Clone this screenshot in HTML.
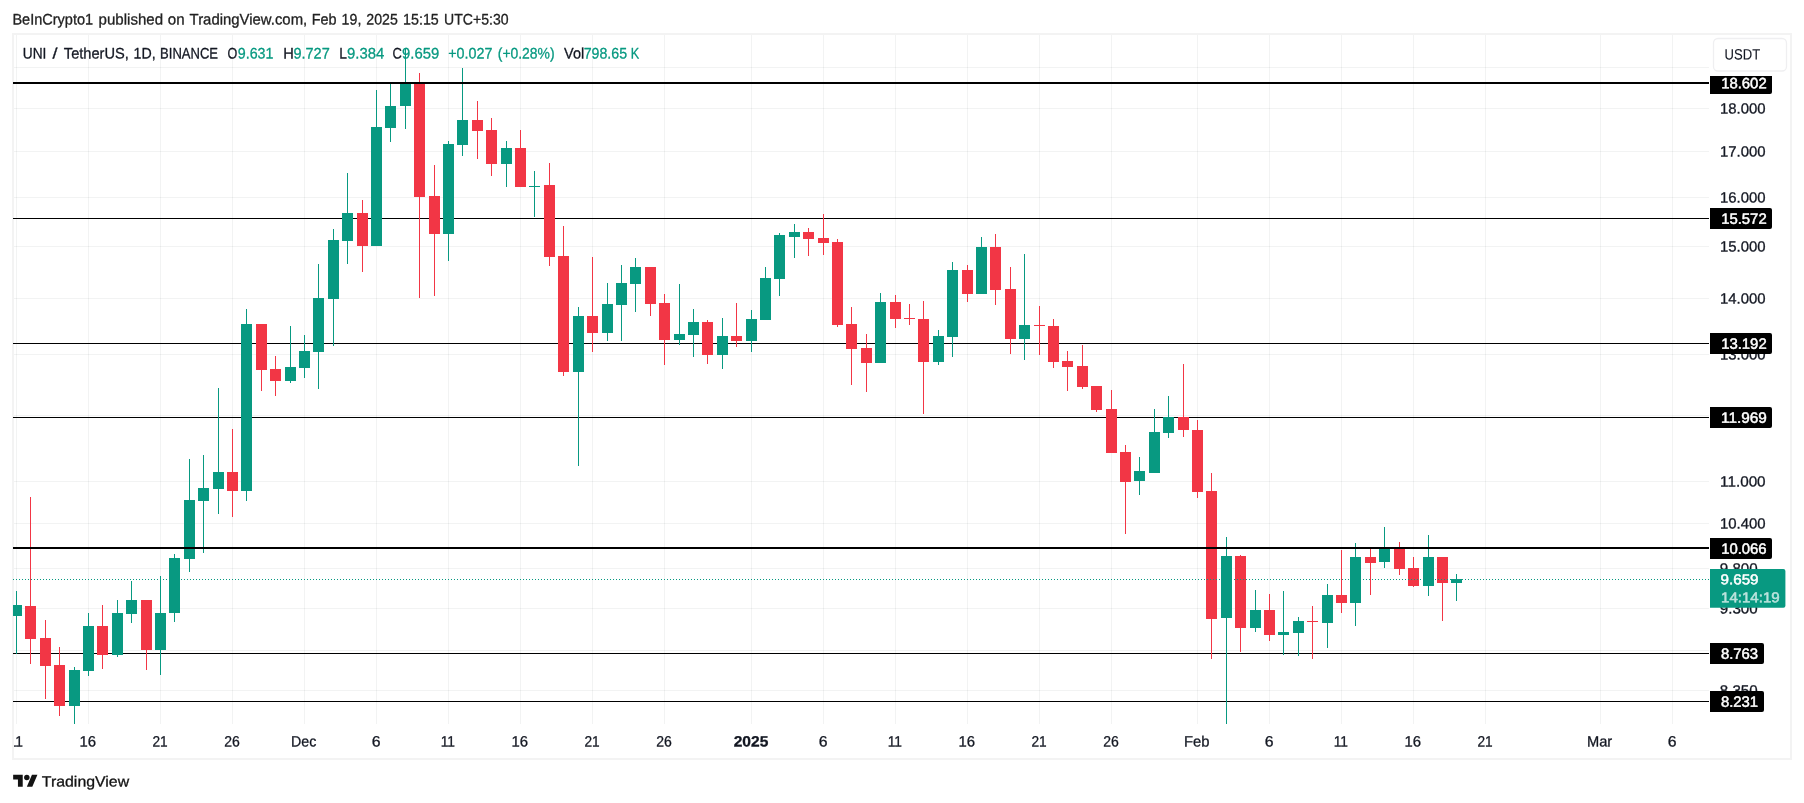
<!DOCTYPE html>
<html lang="en"><head><meta charset="utf-8"><title>UNI / TetherUS chart</title>
<style>html,body{margin:0;padding:0;background:#fff;width:1804px;height:803px;overflow:hidden}</style>
</head><body>
<svg width="1804" height="803" viewBox="0 0 1804 803" style="position:absolute;left:0;top:0;display:block;will-change:transform" font-family="'Liberation Sans', sans-serif">
<rect x="0" y="0" width="1804" height="803" fill="#fff"/>
<g shape-rendering="crispEdges">
<rect x="13" y="34" width="1778" height="725" fill="none" stroke="#f3f3f3" stroke-width="2"/>
<rect x="16" y="35" width="1" height="689" fill="rgba(42,46,57,0.06)"/>
<rect x="88" y="35" width="1" height="689" fill="rgba(42,46,57,0.06)"/>
<rect x="160" y="35" width="1" height="689" fill="rgba(42,46,57,0.06)"/>
<rect x="232" y="35" width="1" height="689" fill="rgba(42,46,57,0.06)"/>
<rect x="304" y="35" width="1" height="689" fill="rgba(42,46,57,0.06)"/>
<rect x="376" y="35" width="1" height="689" fill="rgba(42,46,57,0.06)"/>
<rect x="448" y="35" width="1" height="689" fill="rgba(42,46,57,0.06)"/>
<rect x="520" y="35" width="1" height="689" fill="rgba(42,46,57,0.06)"/>
<rect x="592" y="35" width="1" height="689" fill="rgba(42,46,57,0.06)"/>
<rect x="664" y="35" width="1" height="689" fill="rgba(42,46,57,0.06)"/>
<rect x="751" y="35" width="1" height="689" fill="rgba(42,46,57,0.06)"/>
<rect x="823" y="35" width="1" height="689" fill="rgba(42,46,57,0.06)"/>
<rect x="895" y="35" width="1" height="689" fill="rgba(42,46,57,0.06)"/>
<rect x="967" y="35" width="1" height="689" fill="rgba(42,46,57,0.06)"/>
<rect x="1039" y="35" width="1" height="689" fill="rgba(42,46,57,0.06)"/>
<rect x="1111" y="35" width="1" height="689" fill="rgba(42,46,57,0.06)"/>
<rect x="1197" y="35" width="1" height="689" fill="rgba(42,46,57,0.06)"/>
<rect x="1269" y="35" width="1" height="689" fill="rgba(42,46,57,0.06)"/>
<rect x="1341" y="35" width="1" height="689" fill="rgba(42,46,57,0.06)"/>
<rect x="1413" y="35" width="1" height="689" fill="rgba(42,46,57,0.06)"/>
<rect x="1485" y="35" width="1" height="689" fill="rgba(42,46,57,0.06)"/>
<rect x="1600" y="35" width="1" height="689" fill="rgba(42,46,57,0.06)"/>
<rect x="1672" y="35" width="1" height="689" fill="rgba(42,46,57,0.06)"/>
<rect x="14" y="67" width="1695" height="1" fill="rgba(42,46,57,0.06)"/>
<rect x="14" y="108" width="1695" height="1" fill="rgba(42,46,57,0.06)"/>
<rect x="14" y="151" width="1695" height="1" fill="rgba(42,46,57,0.06)"/>
<rect x="14" y="197" width="1695" height="1" fill="rgba(42,46,57,0.06)"/>
<rect x="14" y="246" width="1695" height="1" fill="rgba(42,46,57,0.06)"/>
<rect x="14" y="298" width="1695" height="1" fill="rgba(42,46,57,0.06)"/>
<rect x="14" y="354" width="1695" height="1" fill="rgba(42,46,57,0.06)"/>
<rect x="14" y="415" width="1695" height="1" fill="rgba(42,46,57,0.06)"/>
<rect x="14" y="481" width="1695" height="1" fill="rgba(42,46,57,0.06)"/>
<rect x="14" y="523" width="1695" height="1" fill="rgba(42,46,57,0.06)"/>
<rect x="14" y="568" width="1695" height="1" fill="rgba(42,46,57,0.06)"/>
<rect x="14" y="608" width="1695" height="1" fill="rgba(42,46,57,0.06)"/>
<rect x="14" y="650" width="1695" height="1" fill="rgba(42,46,57,0.06)"/>
<rect x="14" y="690" width="1695" height="1" fill="rgba(42,46,57,0.06)"/>
<rect x="13" y="218" width="1696" height="1" fill="#000"/>
<rect x="13" y="343" width="1696" height="1" fill="#000"/>
<rect x="13" y="417" width="1696" height="1" fill="#000"/>
<rect x="13" y="653" width="1696" height="1" fill="#000"/>
<rect x="13" y="701" width="1696" height="1" fill="#000"/>
<g clip-path="url(#plotclip)">
<rect x="16" y="591" width="1" height="63" fill="#089981"/>
<rect x="11" y="605" width="11" height="11" fill="#089981"/>
<rect x="30" y="497" width="1" height="167" fill="#f23645"/>
<rect x="25" y="606" width="11" height="33" fill="#f23645"/>
<rect x="45" y="620" width="1" height="79" fill="#f23645"/>
<rect x="40" y="638" width="11" height="28" fill="#f23645"/>
<rect x="59" y="647" width="1" height="69" fill="#f23645"/>
<rect x="54" y="665" width="11" height="41" fill="#f23645"/>
<rect x="74" y="667" width="1" height="57" fill="#089981"/>
<rect x="69" y="670" width="11" height="36" fill="#089981"/>
<rect x="88" y="613" width="1" height="63" fill="#089981"/>
<rect x="83" y="626" width="11" height="45" fill="#089981"/>
<rect x="102" y="605" width="1" height="64" fill="#f23645"/>
<rect x="97" y="626" width="11" height="29" fill="#f23645"/>
<rect x="117" y="600" width="1" height="57" fill="#089981"/>
<rect x="112" y="613" width="11" height="42" fill="#089981"/>
<rect x="131" y="581" width="1" height="42" fill="#089981"/>
<rect x="126" y="600" width="11" height="14" fill="#089981"/>
<rect x="146" y="600" width="1" height="70" fill="#f23645"/>
<rect x="141" y="600" width="11" height="50" fill="#f23645"/>
<rect x="160" y="576" width="1" height="99" fill="#089981"/>
<rect x="155" y="613" width="11" height="37" fill="#089981"/>
<rect x="174" y="554" width="1" height="68" fill="#089981"/>
<rect x="169" y="558" width="11" height="55" fill="#089981"/>
<rect x="189" y="459" width="1" height="113" fill="#089981"/>
<rect x="184" y="500" width="11" height="59" fill="#089981"/>
<rect x="203" y="455" width="1" height="98" fill="#089981"/>
<rect x="198" y="488" width="11" height="13" fill="#089981"/>
<rect x="218" y="388" width="1" height="126" fill="#089981"/>
<rect x="213" y="472" width="11" height="17" fill="#089981"/>
<rect x="232" y="429" width="1" height="88" fill="#f23645"/>
<rect x="227" y="472" width="11" height="19" fill="#f23645"/>
<rect x="246" y="309" width="1" height="192" fill="#089981"/>
<rect x="241" y="324" width="11" height="167" fill="#089981"/>
<rect x="261" y="324" width="1" height="67" fill="#f23645"/>
<rect x="256" y="324" width="11" height="46" fill="#f23645"/>
<rect x="275" y="356" width="1" height="40" fill="#f23645"/>
<rect x="270" y="369" width="11" height="12" fill="#f23645"/>
<rect x="290" y="326" width="1" height="57" fill="#089981"/>
<rect x="285" y="367" width="11" height="14" fill="#089981"/>
<rect x="304" y="335" width="1" height="43" fill="#089981"/>
<rect x="299" y="351" width="11" height="17" fill="#089981"/>
<rect x="318" y="264" width="1" height="125" fill="#089981"/>
<rect x="313" y="298" width="11" height="54" fill="#089981"/>
<rect x="333" y="229" width="1" height="117" fill="#089981"/>
<rect x="328" y="240" width="11" height="59" fill="#089981"/>
<rect x="347" y="173" width="1" height="91" fill="#089981"/>
<rect x="342" y="213" width="11" height="28" fill="#089981"/>
<rect x="362" y="200" width="1" height="72" fill="#f23645"/>
<rect x="357" y="213" width="11" height="33" fill="#f23645"/>
<rect x="376" y="90" width="1" height="156" fill="#089981"/>
<rect x="371" y="127" width="11" height="119" fill="#089981"/>
<rect x="390" y="84" width="1" height="58" fill="#089981"/>
<rect x="385" y="106" width="11" height="22" fill="#089981"/>
<rect x="405" y="48" width="1" height="81" fill="#089981"/>
<rect x="400" y="84" width="11" height="22" fill="#089981"/>
<rect x="419" y="73" width="1" height="225" fill="#f23645"/>
<rect x="414" y="84" width="11" height="113" fill="#f23645"/>
<rect x="434" y="165" width="1" height="131" fill="#f23645"/>
<rect x="429" y="196" width="11" height="38" fill="#f23645"/>
<rect x="448" y="141" width="1" height="120" fill="#089981"/>
<rect x="443" y="144" width="11" height="90" fill="#089981"/>
<rect x="462" y="68" width="1" height="88" fill="#089981"/>
<rect x="457" y="120" width="11" height="25" fill="#089981"/>
<rect x="477" y="101" width="1" height="58" fill="#f23645"/>
<rect x="472" y="120" width="11" height="11" fill="#f23645"/>
<rect x="491" y="118" width="1" height="58" fill="#f23645"/>
<rect x="486" y="130" width="11" height="34" fill="#f23645"/>
<rect x="506" y="141" width="1" height="46" fill="#089981"/>
<rect x="501" y="148" width="11" height="16" fill="#089981"/>
<rect x="520" y="130" width="1" height="57" fill="#f23645"/>
<rect x="515" y="148" width="11" height="39" fill="#f23645"/>
<rect x="534" y="171" width="1" height="46" fill="#089981"/>
<rect x="529" y="186" width="11" height="1" fill="#089981"/>
<rect x="549" y="163" width="1" height="103" fill="#f23645"/>
<rect x="544" y="185" width="11" height="72" fill="#f23645"/>
<rect x="563" y="226" width="1" height="150" fill="#f23645"/>
<rect x="558" y="256" width="11" height="116" fill="#f23645"/>
<rect x="578" y="307" width="1" height="159" fill="#089981"/>
<rect x="573" y="316" width="11" height="56" fill="#089981"/>
<rect x="592" y="257" width="1" height="95" fill="#f23645"/>
<rect x="587" y="316" width="11" height="17" fill="#f23645"/>
<rect x="607" y="283" width="1" height="58" fill="#089981"/>
<rect x="602" y="304" width="11" height="29" fill="#089981"/>
<rect x="621" y="265" width="1" height="76" fill="#089981"/>
<rect x="616" y="283" width="11" height="22" fill="#089981"/>
<rect x="635" y="258" width="1" height="54" fill="#089981"/>
<rect x="630" y="267" width="11" height="17" fill="#089981"/>
<rect x="650" y="267" width="1" height="49" fill="#f23645"/>
<rect x="645" y="267" width="11" height="37" fill="#f23645"/>
<rect x="664" y="294" width="1" height="71" fill="#f23645"/>
<rect x="659" y="303" width="11" height="37" fill="#f23645"/>
<rect x="679" y="284" width="1" height="61" fill="#089981"/>
<rect x="674" y="334" width="11" height="6" fill="#089981"/>
<rect x="693" y="309" width="1" height="48" fill="#089981"/>
<rect x="688" y="322" width="11" height="13" fill="#089981"/>
<rect x="707" y="320" width="1" height="44" fill="#f23645"/>
<rect x="702" y="322" width="11" height="33" fill="#f23645"/>
<rect x="722" y="318" width="1" height="51" fill="#089981"/>
<rect x="717" y="336" width="11" height="19" fill="#089981"/>
<rect x="736" y="303" width="1" height="44" fill="#f23645"/>
<rect x="731" y="336" width="11" height="5" fill="#f23645"/>
<rect x="751" y="310" width="1" height="42" fill="#089981"/>
<rect x="746" y="319" width="11" height="22" fill="#089981"/>
<rect x="765" y="267" width="1" height="53" fill="#089981"/>
<rect x="760" y="278" width="11" height="42" fill="#089981"/>
<rect x="779" y="233" width="1" height="63" fill="#089981"/>
<rect x="774" y="235" width="11" height="44" fill="#089981"/>
<rect x="794" y="224" width="1" height="34" fill="#089981"/>
<rect x="789" y="232" width="11" height="5" fill="#089981"/>
<rect x="808" y="228" width="1" height="28" fill="#f23645"/>
<rect x="803" y="232" width="11" height="7" fill="#f23645"/>
<rect x="823" y="214" width="1" height="41" fill="#f23645"/>
<rect x="818" y="238" width="11" height="5" fill="#f23645"/>
<rect x="837" y="239" width="1" height="88" fill="#f23645"/>
<rect x="832" y="242" width="11" height="83" fill="#f23645"/>
<rect x="851" y="307" width="1" height="78" fill="#f23645"/>
<rect x="846" y="324" width="11" height="25" fill="#f23645"/>
<rect x="866" y="334" width="1" height="58" fill="#f23645"/>
<rect x="861" y="348" width="11" height="15" fill="#f23645"/>
<rect x="880" y="293" width="1" height="70" fill="#089981"/>
<rect x="875" y="302" width="11" height="61" fill="#089981"/>
<rect x="895" y="295" width="1" height="33" fill="#f23645"/>
<rect x="890" y="302" width="11" height="17" fill="#f23645"/>
<rect x="909" y="304" width="1" height="21" fill="#f23645"/>
<rect x="904" y="318" width="11" height="1" fill="#f23645"/>
<rect x="923" y="301" width="1" height="113" fill="#f23645"/>
<rect x="918" y="319" width="11" height="43" fill="#f23645"/>
<rect x="938" y="330" width="1" height="35" fill="#089981"/>
<rect x="933" y="336" width="11" height="26" fill="#089981"/>
<rect x="952" y="262" width="1" height="95" fill="#089981"/>
<rect x="947" y="270" width="11" height="67" fill="#089981"/>
<rect x="967" y="265" width="1" height="37" fill="#f23645"/>
<rect x="962" y="270" width="11" height="24" fill="#f23645"/>
<rect x="981" y="237" width="1" height="57" fill="#089981"/>
<rect x="976" y="247" width="11" height="47" fill="#089981"/>
<rect x="995" y="234" width="1" height="71" fill="#f23645"/>
<rect x="990" y="247" width="11" height="43" fill="#f23645"/>
<rect x="1010" y="267" width="1" height="87" fill="#f23645"/>
<rect x="1005" y="289" width="11" height="50" fill="#f23645"/>
<rect x="1024" y="254" width="1" height="106" fill="#089981"/>
<rect x="1019" y="325" width="11" height="14" fill="#089981"/>
<rect x="1039" y="306" width="1" height="49" fill="#f23645"/>
<rect x="1034" y="325" width="11" height="1" fill="#f23645"/>
<rect x="1053" y="319" width="1" height="49" fill="#f23645"/>
<rect x="1048" y="326" width="11" height="36" fill="#f23645"/>
<rect x="1067" y="351" width="1" height="40" fill="#f23645"/>
<rect x="1062" y="361" width="11" height="6" fill="#f23645"/>
<rect x="1082" y="345" width="1" height="44" fill="#f23645"/>
<rect x="1077" y="366" width="11" height="21" fill="#f23645"/>
<rect x="1096" y="386" width="1" height="26" fill="#f23645"/>
<rect x="1091" y="386" width="11" height="24" fill="#f23645"/>
<rect x="1111" y="390" width="1" height="63" fill="#f23645"/>
<rect x="1106" y="409" width="11" height="44" fill="#f23645"/>
<rect x="1125" y="445" width="1" height="89" fill="#f23645"/>
<rect x="1120" y="452" width="11" height="30" fill="#f23645"/>
<rect x="1139" y="457" width="1" height="38" fill="#089981"/>
<rect x="1134" y="471" width="11" height="10" fill="#089981"/>
<rect x="1154" y="409" width="1" height="64" fill="#089981"/>
<rect x="1149" y="432" width="11" height="41" fill="#089981"/>
<rect x="1168" y="396" width="1" height="42" fill="#089981"/>
<rect x="1163" y="417" width="11" height="16" fill="#089981"/>
<rect x="1183" y="364" width="1" height="73" fill="#f23645"/>
<rect x="1178" y="417" width="11" height="13" fill="#f23645"/>
<rect x="1197" y="420" width="1" height="78" fill="#f23645"/>
<rect x="1192" y="430" width="11" height="62" fill="#f23645"/>
<rect x="1211" y="473" width="1" height="186" fill="#f23645"/>
<rect x="1206" y="491" width="11" height="128" fill="#f23645"/>
<rect x="1226" y="537" width="1" height="187" fill="#089981"/>
<rect x="1221" y="556" width="11" height="62" fill="#089981"/>
<rect x="1240" y="555" width="1" height="97" fill="#f23645"/>
<rect x="1235" y="556" width="11" height="72" fill="#f23645"/>
<rect x="1255" y="590" width="1" height="42" fill="#089981"/>
<rect x="1250" y="610" width="11" height="18" fill="#089981"/>
<rect x="1269" y="594" width="1" height="47" fill="#f23645"/>
<rect x="1264" y="610" width="11" height="25" fill="#f23645"/>
<rect x="1283" y="591" width="1" height="64" fill="#089981"/>
<rect x="1278" y="632" width="11" height="3" fill="#089981"/>
<rect x="1298" y="617" width="1" height="39" fill="#089981"/>
<rect x="1293" y="621" width="11" height="12" fill="#089981"/>
<rect x="1312" y="606" width="1" height="53" fill="#f23645"/>
<rect x="1307" y="621" width="11" height="1" fill="#f23645"/>
<rect x="1327" y="584" width="1" height="64" fill="#089981"/>
<rect x="1322" y="595" width="11" height="28" fill="#089981"/>
<rect x="1341" y="550" width="1" height="63" fill="#f23645"/>
<rect x="1336" y="595" width="11" height="8" fill="#f23645"/>
<rect x="1355" y="543" width="1" height="83" fill="#089981"/>
<rect x="1350" y="557" width="11" height="46" fill="#089981"/>
<rect x="1370" y="548" width="1" height="47" fill="#f23645"/>
<rect x="1365" y="557" width="11" height="6" fill="#f23645"/>
<rect x="1384" y="527" width="1" height="41" fill="#089981"/>
<rect x="1379" y="549" width="11" height="13" fill="#089981"/>
<rect x="1399" y="542" width="1" height="33" fill="#f23645"/>
<rect x="1394" y="549" width="11" height="20" fill="#f23645"/>
<rect x="1413" y="557" width="1" height="30" fill="#f23645"/>
<rect x="1408" y="568" width="11" height="18" fill="#f23645"/>
<rect x="1428" y="535" width="1" height="61" fill="#089981"/>
<rect x="1423" y="557" width="11" height="29" fill="#089981"/>
<rect x="1442" y="557" width="1" height="64" fill="#f23645"/>
<rect x="1437" y="557" width="11" height="26" fill="#f23645"/>
<rect x="1456" y="574" width="1" height="27" fill="#089981"/>
<rect x="1451" y="579" width="11" height="4" fill="#089981"/>
</g>
<rect x="13" y="82" width="1696" height="2" fill="#000"/>
<rect x="13" y="547" width="1696" height="2" fill="#000"/>
</g>
<line x1="13" y1="579.5" x2="1710" y2="579.5" stroke="#089981" stroke-width="1" stroke-dasharray="1 2" shape-rendering="crispEdges"/>
<defs><clipPath id="plotclip"><rect x="13" y="35" width="1697" height="689"/></clipPath></defs>
<text x="12.38" textLength="80.77" lengthAdjust="spacingAndGlyphs" y="24.5" transform="rotate(0.05 53.0 24.5)" font-size="15.3" fill="#222" stroke="#222" stroke-width="0.3" stroke-linejoin="round">BeInCrypto1</text>
<text x="98.60" textLength="64.43" lengthAdjust="spacingAndGlyphs" y="24.5" transform="rotate(0.05 130.8 24.5)" font-size="15.3" fill="#222" stroke="#222" stroke-width="0.3" stroke-linejoin="round">published</text>
<text x="167.86" textLength="16.79" lengthAdjust="spacingAndGlyphs" y="24.5" transform="rotate(0.05 175.8 24.5)" font-size="15.3" fill="#222" stroke="#222" stroke-width="0.3" stroke-linejoin="round">on</text>
<text x="189.60" textLength="117.59" lengthAdjust="spacingAndGlyphs" y="24.5" transform="rotate(0.05 247.8 24.5)" font-size="15.3" fill="#222" stroke="#222" stroke-width="0.3" stroke-linejoin="round">TradingView.com,</text>
<text x="311.66" textLength="24.85" lengthAdjust="spacingAndGlyphs" y="24.5" transform="rotate(0.05 324.4 24.5)" font-size="15.3" fill="#222" stroke="#222" stroke-width="0.3" stroke-linejoin="round">Feb</text>
<text x="341.62" textLength="19.71" lengthAdjust="spacingAndGlyphs" y="24.5" transform="rotate(0.05 351.3 24.5)" font-size="15.3" fill="#222" stroke="#222" stroke-width="0.3" stroke-linejoin="round">19,</text>
<text x="366.34" textLength="31.47" lengthAdjust="spacingAndGlyphs" y="24.5" transform="rotate(0.05 381.9 24.5)" font-size="15.3" fill="#222" stroke="#222" stroke-width="0.3" stroke-linejoin="round">2025</text>
<text x="403.10" textLength="35.69" lengthAdjust="spacingAndGlyphs" y="24.5" transform="rotate(0.05 421.0 24.5)" font-size="15.3" fill="#222" stroke="#222" stroke-width="0.3" stroke-linejoin="round">15:15</text>
<text x="444.10" textLength="64.50" lengthAdjust="spacingAndGlyphs" y="24.5" transform="rotate(0.05 476.5 24.5)" font-size="15.3" fill="#222" stroke="#222" stroke-width="0.3" stroke-linejoin="round">UTC+5:30</text>
<text x="22.76" textLength="23.61" lengthAdjust="spacingAndGlyphs" y="58.45" transform="rotate(0.05 34.4 58.45)" font-size="15.3" fill="#131722" stroke="#131722" stroke-width="0.3" stroke-linejoin="round">UNI</text>
<text x="52.40" textLength="5.00" lengthAdjust="spacingAndGlyphs" y="58.45" transform="rotate(0.05 54.9 58.45)" font-size="15.3" fill="#131722" stroke="#131722" stroke-width="0.3" stroke-linejoin="round">/</text>
<text x="63.84" textLength="65.01" lengthAdjust="spacingAndGlyphs" y="58.45" transform="rotate(0.05 95.8 58.45)" font-size="15.3" fill="#131722" stroke="#131722" stroke-width="0.3" stroke-linejoin="round">TetherUS,</text>
<text x="133.54" textLength="22.07" lengthAdjust="spacingAndGlyphs" y="58.45" transform="rotate(0.05 144.4 58.45)" font-size="15.3" fill="#131722" stroke="#131722" stroke-width="0.3" stroke-linejoin="round">1D,</text>
<text x="160.10" textLength="57.94" lengthAdjust="spacingAndGlyphs" y="58.45" transform="rotate(0.05 189.2 58.45)" font-size="15.3" fill="#131722" stroke="#131722" stroke-width="0.3" stroke-linejoin="round">BINANCE</text>
<text x="227.52" textLength="9.77" lengthAdjust="spacingAndGlyphs" y="58.45" transform="rotate(0.05 232.2 58.45)" font-size="15.3" fill="#131722" stroke="#131722" stroke-width="0.3" stroke-linejoin="round">O</text>
<text x="237.74" textLength="35.68" lengthAdjust="spacingAndGlyphs" y="58.45" transform="rotate(0.05 255.6 58.45)" font-size="15.3" fill="#089981" stroke="#089981" stroke-width="0.3" stroke-linejoin="round">9.631</text>
<text x="283.30" textLength="10.60" lengthAdjust="spacingAndGlyphs" y="58.45" transform="rotate(0.05 288.5 58.45)" font-size="15.3" fill="#131722" stroke="#131722" stroke-width="0.3" stroke-linejoin="round">H</text>
<text x="293.44" textLength="36.31" lengthAdjust="spacingAndGlyphs" y="58.45" transform="rotate(0.05 311.7 58.45)" font-size="15.3" fill="#089981" stroke="#089981" stroke-width="0.3" stroke-linejoin="round">9.727</text>
<text x="339.26" textLength="7.68" lengthAdjust="spacingAndGlyphs" y="58.45" transform="rotate(0.05 343.3 58.45)" font-size="15.3" fill="#131722" stroke="#131722" stroke-width="0.3" stroke-linejoin="round">L</text>
<text x="347.06" textLength="37.26" lengthAdjust="spacingAndGlyphs" y="58.45" transform="rotate(0.05 365.6 58.45)" font-size="15.3" fill="#089981" stroke="#089981" stroke-width="0.3" stroke-linejoin="round">9.384</text>
<text x="392.56" textLength="9.32" lengthAdjust="spacingAndGlyphs" y="58.45" transform="rotate(0.05 397.1 58.45)" font-size="15.3" fill="#131722" stroke="#131722" stroke-width="0.3" stroke-linejoin="round">C</text>
<text x="402.08" textLength="37.21" lengthAdjust="spacingAndGlyphs" y="58.45" transform="rotate(0.05 420.5 58.45)" font-size="15.3" fill="#089981" stroke="#089981" stroke-width="0.3" stroke-linejoin="round">9.659</text>
<text x="448.24" textLength="44.17" lengthAdjust="spacingAndGlyphs" y="58.45" transform="rotate(0.05 470.4 58.45)" font-size="15.3" fill="#089981" stroke="#089981" stroke-width="0.3" stroke-linejoin="round">+0.027</text>
<text x="497.78" textLength="56.80" lengthAdjust="spacingAndGlyphs" y="58.45" transform="rotate(0.05 526.2 58.45)" font-size="15.3" fill="#089981" stroke="#089981" stroke-width="0.3" stroke-linejoin="round">(+0.28%)</text>
<text x="564.06" textLength="20.06" lengthAdjust="spacingAndGlyphs" y="58.45" transform="rotate(0.05 573.6 58.45)" font-size="15.3" fill="#131722" stroke="#131722" stroke-width="0.3" stroke-linejoin="round">Vol</text>
<text x="583.70" textLength="43.39" lengthAdjust="spacingAndGlyphs" y="58.45" transform="rotate(0.05 605.5 58.45)" font-size="15.3" fill="#089981" stroke="#089981" stroke-width="0.3" stroke-linejoin="round">798.65</text>
<text x="630.82" textLength="8.44" lengthAdjust="spacingAndGlyphs" y="58.45" transform="rotate(0.05 635.5 58.45)" font-size="15.3" fill="#089981" stroke="#089981" stroke-width="0.3" stroke-linejoin="round">K</text>
<defs><clipPath id="axisclip"><rect x="14" y="724" width="1776" height="34"/></clipPath></defs>
<g clip-path="url(#axisclip)">
<text x="8.70" textLength="14.33" lengthAdjust="spacingAndGlyphs" y="746.45" transform="rotate(0.05 16.0 746.45)" font-size="15.0" fill="#131722" stroke="#131722" stroke-width="0.3" stroke-linejoin="round">11</text>
<text x="79.60" textLength="16.56" lengthAdjust="spacingAndGlyphs" y="746.45" transform="rotate(0.05 88.0 746.45)" font-size="15.0" fill="#131722" stroke="#131722" stroke-width="0.3" stroke-linejoin="round">16</text>
<text x="152.45" textLength="15.25" lengthAdjust="spacingAndGlyphs" y="746.45" transform="rotate(0.05 160.0 746.45)" font-size="15.0" fill="#131722" stroke="#131722" stroke-width="0.3" stroke-linejoin="round">21</text>
<text x="224.25" textLength="15.58" lengthAdjust="spacingAndGlyphs" y="746.45" transform="rotate(0.05 232.0 746.45)" font-size="15.0" fill="#131722" stroke="#131722" stroke-width="0.3" stroke-linejoin="round">26</text>
<text x="291.00" textLength="25.27" lengthAdjust="spacingAndGlyphs" y="746.45" transform="rotate(0.05 304.0 746.45)" font-size="15.0" fill="#131722" stroke="#131722" stroke-width="0.3" stroke-linejoin="round">Dec</text>
<text x="371.65" textLength="8.79" lengthAdjust="spacingAndGlyphs" y="746.45" transform="rotate(0.05 376.0 746.45)" font-size="15.0" fill="#131722" stroke="#131722" stroke-width="0.3" stroke-linejoin="round">6</text>
<text x="440.70" textLength="14.33" lengthAdjust="spacingAndGlyphs" y="746.45" transform="rotate(0.05 448.0 746.45)" font-size="15.0" fill="#131722" stroke="#131722" stroke-width="0.3" stroke-linejoin="round">11</text>
<text x="511.60" textLength="16.56" lengthAdjust="spacingAndGlyphs" y="746.45" transform="rotate(0.05 520.0 746.45)" font-size="15.0" fill="#131722" stroke="#131722" stroke-width="0.3" stroke-linejoin="round">16</text>
<text x="584.45" textLength="15.25" lengthAdjust="spacingAndGlyphs" y="746.45" transform="rotate(0.05 592.0 746.45)" font-size="15.0" fill="#131722" stroke="#131722" stroke-width="0.3" stroke-linejoin="round">21</text>
<text x="656.25" textLength="15.58" lengthAdjust="spacingAndGlyphs" y="746.45" transform="rotate(0.05 664.0 746.45)" font-size="15.0" fill="#131722" stroke="#131722" stroke-width="0.3" stroke-linejoin="round">26</text>
<text x="733.70" textLength="34.61" lengthAdjust="spacingAndGlyphs" y="746.45" transform="rotate(0.05 751.0 746.45)" font-size="15.0" fill="#131722" stroke="#131722" stroke-width="0.3" stroke-linejoin="round" font-weight="bold">2025</text>
<text x="818.65" textLength="8.79" lengthAdjust="spacingAndGlyphs" y="746.45" transform="rotate(0.05 823.0 746.45)" font-size="15.0" fill="#131722" stroke="#131722" stroke-width="0.3" stroke-linejoin="round">6</text>
<text x="887.70" textLength="14.33" lengthAdjust="spacingAndGlyphs" y="746.45" transform="rotate(0.05 895.0 746.45)" font-size="15.0" fill="#131722" stroke="#131722" stroke-width="0.3" stroke-linejoin="round">11</text>
<text x="958.60" textLength="16.56" lengthAdjust="spacingAndGlyphs" y="746.45" transform="rotate(0.05 967.0 746.45)" font-size="15.0" fill="#131722" stroke="#131722" stroke-width="0.3" stroke-linejoin="round">16</text>
<text x="1031.45" textLength="15.25" lengthAdjust="spacingAndGlyphs" y="746.45" transform="rotate(0.05 1039.0 746.45)" font-size="15.0" fill="#131722" stroke="#131722" stroke-width="0.3" stroke-linejoin="round">21</text>
<text x="1103.25" textLength="15.58" lengthAdjust="spacingAndGlyphs" y="746.45" transform="rotate(0.05 1111.0 746.45)" font-size="15.0" fill="#131722" stroke="#131722" stroke-width="0.3" stroke-linejoin="round">26</text>
<text x="1183.90" textLength="25.49" lengthAdjust="spacingAndGlyphs" y="746.45" transform="rotate(0.05 1197.0 746.45)" font-size="15.0" fill="#131722" stroke="#131722" stroke-width="0.3" stroke-linejoin="round">Feb</text>
<text x="1264.65" textLength="8.79" lengthAdjust="spacingAndGlyphs" y="746.45" transform="rotate(0.05 1269.0 746.45)" font-size="15.0" fill="#131722" stroke="#131722" stroke-width="0.3" stroke-linejoin="round">6</text>
<text x="1333.70" textLength="14.33" lengthAdjust="spacingAndGlyphs" y="746.45" transform="rotate(0.05 1341.0 746.45)" font-size="15.0" fill="#131722" stroke="#131722" stroke-width="0.3" stroke-linejoin="round">11</text>
<text x="1404.60" textLength="16.56" lengthAdjust="spacingAndGlyphs" y="746.45" transform="rotate(0.05 1413.0 746.45)" font-size="15.0" fill="#131722" stroke="#131722" stroke-width="0.3" stroke-linejoin="round">16</text>
<text x="1477.45" textLength="15.25" lengthAdjust="spacingAndGlyphs" y="746.45" transform="rotate(0.05 1485.0 746.45)" font-size="15.0" fill="#131722" stroke="#131722" stroke-width="0.3" stroke-linejoin="round">21</text>
<text x="1587.00" textLength="25.26" lengthAdjust="spacingAndGlyphs" y="746.45" transform="rotate(0.05 1600.0 746.45)" font-size="15.0" fill="#131722" stroke="#131722" stroke-width="0.3" stroke-linejoin="round">Mar</text>
<text x="1667.65" textLength="8.79" lengthAdjust="spacingAndGlyphs" y="746.45" transform="rotate(0.05 1672.0 746.45)" font-size="15.0" fill="#131722" stroke="#131722" stroke-width="0.3" stroke-linejoin="round">6</text>
</g>
<text x="1720.04" textLength="45.60" lengthAdjust="spacingAndGlyphs" y="113.45" transform="rotate(0.05 1743.1 113.45)" font-size="14.8" fill="#131722" stroke="#131722" stroke-width="0.3" stroke-linejoin="round">18.000</text>
<text x="1720.04" textLength="45.60" lengthAdjust="spacingAndGlyphs" y="156.45" transform="rotate(0.05 1743.1 156.45)" font-size="14.8" fill="#131722" stroke="#131722" stroke-width="0.3" stroke-linejoin="round">17.000</text>
<text x="1720.04" textLength="45.60" lengthAdjust="spacingAndGlyphs" y="202.45" transform="rotate(0.05 1743.1 202.45)" font-size="14.8" fill="#131722" stroke="#131722" stroke-width="0.3" stroke-linejoin="round">16.000</text>
<text x="1720.04" textLength="45.60" lengthAdjust="spacingAndGlyphs" y="251.45" transform="rotate(0.05 1743.1 251.45)" font-size="14.8" fill="#131722" stroke="#131722" stroke-width="0.3" stroke-linejoin="round">15.000</text>
<text x="1720.04" textLength="45.60" lengthAdjust="spacingAndGlyphs" y="303.45" transform="rotate(0.05 1743.1 303.45)" font-size="14.8" fill="#131722" stroke="#131722" stroke-width="0.3" stroke-linejoin="round">14.000</text>
<text x="1720.04" textLength="45.60" lengthAdjust="spacingAndGlyphs" y="359.45" transform="rotate(0.05 1743.1 359.45)" font-size="14.8" fill="#131722" stroke="#131722" stroke-width="0.3" stroke-linejoin="round">13.000</text>
<text x="1720.04" textLength="45.60" lengthAdjust="spacingAndGlyphs" y="486.45" transform="rotate(0.05 1743.1 486.45)" font-size="14.8" fill="#131722" stroke="#131722" stroke-width="0.3" stroke-linejoin="round">11.000</text>
<text x="1720.04" textLength="45.60" lengthAdjust="spacingAndGlyphs" y="528.45" transform="rotate(0.05 1743.1 528.45)" font-size="14.8" fill="#131722" stroke="#131722" stroke-width="0.3" stroke-linejoin="round">10.400</text>
<text x="1719.80" textLength="37.85" lengthAdjust="spacingAndGlyphs" y="573.45" transform="rotate(0.05 1738.8 573.45)" font-size="14.8" fill="#131722" stroke="#131722" stroke-width="0.3" stroke-linejoin="round">9.800</text>
<text x="1719.80" textLength="37.85" lengthAdjust="spacingAndGlyphs" y="613.45" transform="rotate(0.05 1738.8 613.45)" font-size="14.8" fill="#131722" stroke="#131722" stroke-width="0.3" stroke-linejoin="round">9.300</text>
<text x="1719.80" textLength="37.85" lengthAdjust="spacingAndGlyphs" y="695.45" transform="rotate(0.05 1738.8 695.45)" font-size="14.8" fill="#131722" stroke="#131722" stroke-width="0.3" stroke-linejoin="round">8.350</text>
<path d="M1710 76h62v16a2 2 0 0 1 -2 2h-60z" fill="#000"/>
<path d="M1710 208.0h60a2 2 0 0 1 2 2v17a2 2 0 0 1 -2 2h-60z" fill="#000"/>
<path d="M1710 333.0h60a2 2 0 0 1 2 2v17a2 2 0 0 1 -2 2h-60z" fill="#000"/>
<path d="M1710 407.0h60a2 2 0 0 1 2 2v17a2 2 0 0 1 -2 2h-60z" fill="#000"/>
<path d="M1710 538.0h60a2 2 0 0 1 2 2v17a2 2 0 0 1 -2 2h-60z" fill="#000"/>
<path d="M1710 643.0h52a2 2 0 0 1 2 2v17a2 2 0 0 1 -2 2h-52z" fill="#000"/>
<path d="M1710 691.0h52a2 2 0 0 1 2 2v17a2 2 0 0 1 -2 2h-52z" fill="#000"/>
<text x="1721.18" textLength="45.50" lengthAdjust="spacingAndGlyphs" y="88.35" transform="rotate(0.05 1744.2 88.35)" font-size="14.9" fill="#fff" stroke="#fff" stroke-width="0.5" stroke-linejoin="round">18.602</text>
<text x="1721.18" textLength="45.50" lengthAdjust="spacingAndGlyphs" y="223.7" transform="rotate(0.05 1744.2 223.7)" font-size="14.9" fill="#fff" stroke="#fff" stroke-width="0.5" stroke-linejoin="round">15.572</text>
<text x="1721.18" textLength="45.50" lengthAdjust="spacingAndGlyphs" y="348.7" transform="rotate(0.05 1744.2 348.7)" font-size="14.9" fill="#fff" stroke="#fff" stroke-width="0.5" stroke-linejoin="round">13.192</text>
<text x="1721.08" textLength="45.70" lengthAdjust="spacingAndGlyphs" y="422.7" transform="rotate(0.05 1744.2 422.7)" font-size="14.9" fill="#fff" stroke="#fff" stroke-width="0.5" stroke-linejoin="round">11.969</text>
<text x="1721.16" textLength="45.45" lengthAdjust="spacingAndGlyphs" y="553.7" transform="rotate(0.05 1744.2 553.7)" font-size="14.9" fill="#fff" stroke="#fff" stroke-width="0.5" stroke-linejoin="round">10.066</text>
<text x="1720.88" textLength="37.24" lengthAdjust="spacingAndGlyphs" y="658.7" transform="rotate(0.05 1739.4 658.7)" font-size="14.9" fill="#fff" stroke="#fff" stroke-width="0.5" stroke-linejoin="round">8.763</text>
<text x="1720.88" textLength="37.25" lengthAdjust="spacingAndGlyphs" y="706.7" transform="rotate(0.05 1739.4 706.7)" font-size="14.9" fill="#fff" stroke="#fff" stroke-width="0.5" stroke-linejoin="round">8.231</text>
<path d="M1710 569h73.4a2 2 0 0 1 2 2v34.7a2 2 0 0 1 -2 2h-73.4z" fill="#089981"/>
<text x="1720.62" textLength="37.96" lengthAdjust="spacingAndGlyphs" y="584.35" transform="rotate(0.05 1739.5 584.35)" font-size="14.2" fill="#fff" stroke="#fff" stroke-width="0.5" stroke-linejoin="round">9.659</text>
<text x="1721.02" textLength="58.71" lengthAdjust="spacingAndGlyphs" y="602.35" transform="rotate(0.05 1750.6 602.35)" font-size="14.2" fill="#fff" stroke="#fff" stroke-width="0.5" stroke-linejoin="round" opacity="0.72">14:14:19</text>
<rect x="1713.5" y="38.5" width="73" height="32.5" rx="4.5" ry="4.5" fill="#fff" stroke="#efeff1" stroke-width="1.3"/>
<text x="1724.60" textLength="35.53" lengthAdjust="spacingAndGlyphs" y="59.45" transform="rotate(0.05 1742.8 59.45)" font-size="15.0" fill="#131722" stroke="#131722" stroke-width="0.12" stroke-linejoin="round">USDT</text>
<g transform="translate(13.15,772.12) scale(0.684,0.67)" fill="#131313"><path d="M14 22H7V11H0V4h14v18zM28 22h-8l7.5-18h8L28 22z"/><circle cx="20" cy="8" r="4"/></g>
<text x="41.82" textLength="87.34" lengthAdjust="spacingAndGlyphs" y="786.6" transform="rotate(0.05 85.7 786.6)" font-size="14.8" fill="#131313" stroke="#131313" stroke-width="0.3" stroke-linejoin="round">TradingView</text>
</svg>
</body></html>
